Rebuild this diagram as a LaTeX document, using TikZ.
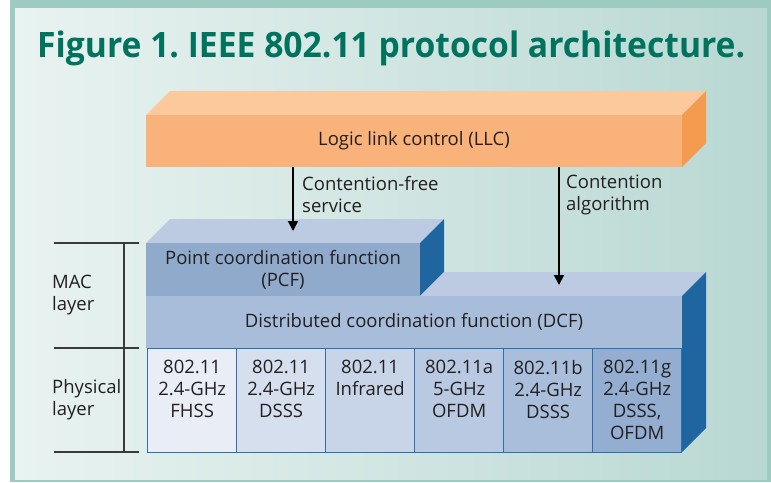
\documentclass[tikz,border=0pt]{standalone}
\usepackage{fontspec}
\setmainfont{Open Sans}
\usetikzlibrary{arrows.meta}
\frenchspacing
\definecolor{framec}{HTML}{9DCBC2}
\definecolor{bgL}{HTML}{E9F3F1}
\definecolor{bgR}{HTML}{B9D8D3}
\definecolor{titlec}{HTML}{00735F}
\definecolor{txt}{HTML}{231F20}
\definecolor{llcF}{HTML}{F9B27A}
\definecolor{llcT}{HTML}{FBC99C}
\definecolor{llcR}{HTML}{F59B4F}
\definecolor{blueT}{HTML}{BCCBE2}
\definecolor{blueR}{HTML}{1F65A0}
\definecolor{pcfF}{HTML}{90AACB}
\definecolor{dcfF}{HTML}{A8BDD9}
\definecolor{cellB}{HTML}{2E6FAD}
\definecolor{cA}{HTML}{E8EDF6}
\definecolor{cB}{HTML}{D6DFEE}
\definecolor{cC}{HTML}{C8D4E8}
\definecolor{cD}{HTML}{B8C9E1}
\definecolor{cE}{HTML}{A9BEDB}
\definecolor{cF}{HTML}{93AED1}
\definecolor{linec}{HTML}{3A3A3A}
\begin{document}
\begin{tikzpicture}[x=1pt,y=-1pt,
  lbl/.style={text=txt, font=\fontsize{18.5}{22}\selectfont, inner sep=0pt},
  face/.style={inner sep=0pt, outer sep=0pt},
  cellbox/.style={draw=cellB, line width=1.3pt, minimum width=89pt, minimum height=104pt, inner sep=0pt, anchor=north west},
  arr/.style={line width=1.8pt, -{Triangle[width=10pt,length=10pt]}},
  brk/.style={draw=linec, line width=1.5pt}]
\useasboundingbox (0,0) rectangle (771,482);
\fill[white] (0,0) rectangle (771,482);
\fill[framec] (10,0) rectangle (771,482);
\shade[left color=bgL, right color=bgR] (15,8) rectangle (767,479);
% title
\node[anchor=base west, inner sep=0pt, text=titlec, font=\bfseries\fontsize{35}{38}\selectfont] (title) at (37,57) {\resizebox{708pt}{\height}{Figure 1. IEEE 802.11 protocol architecture.}};
% LLC block
\fill[llcT] (146,115) -- (170,91) -- (706,91) -- (682,115) -- cycle;
\fill[llcR] (682,115) -- (706,91) -- (706,143) -- (682,167) -- cycle;
\node[face, fill=llcF, minimum width=536pt, minimum height=52pt, anchor=north west] (llc) at (146,115) {};
\node[lbl] (llct) at (llc.center) {Logic link control (LLC)};
% PCF block
\fill[blueT] (146,243) -- (170,219) -- (444,219) -- (420,243) -- cycle;
\fill[blueR] (420,243) -- (444,219) -- (444,272) -- (420,296) -- cycle;
\node[face, fill=pcfF, minimum width=274pt, minimum height=53pt, anchor=north west] (pcf) at (146,243) {};
\node[lbl, align=center] (pcft) at (283,270) {Point coordination function\\(PCF)};
% DCF block
\fill[blueT] (420,296) -- (444,272) -- (706,272) -- (682,296) -- cycle;
\fill[blueR] (682,296) -- (706,272) -- (706,428) -- (682,452) -- cycle;
\node[face, fill=dcfF, minimum width=536pt, minimum height=52pt, anchor=north west] (dcf) at (146,296) {};
\node[lbl] (dcft) at (414,322) {Distributed coordination function (DCF)};
% physical cells
\foreach \i/\c/\t in {0/cA/{802.11\\2.4-GHz\\FHSS}, 1/cB/{802.11\\2.4-GHz\\DSSS}, 2/cC/{802.11\\Infrared}, 3/cD/{802.11a\\5-GHz\\OFDM}, 4/cE/{802.11b\\2.4-GHz\\DSSS}, 5/cF/{802.11g\\2.4-GHz\\DSSS,\\OFDM}}{
  \node[cellbox, fill=\c] (cell\i) at ({147+89*\i},348) {};
  \node[lbl, align=center, anchor=north] (cellt\i) at ([yshift=-12pt]cell\i.north) {\t};
}
% arrows
\coordinate (tip1) at (293,231);
\coordinate (tip2) at (559,285);
\draw[arr] (llc.south -| tip1) -- (tip1);
\draw[arr] (llc.south -| tip2) -- (tip2);
\node[lbl, align=left, anchor=west] (cf) at (302,195) {Contention-free\\service};
\node[lbl, align=left, anchor=west] (ca) at (566,195) {Contention\\algorithm};
% layer bracket
\draw[brk] (54,243) -- (139,243);
\draw[brk] (54,348) -- (139,348);
\draw[brk] (54,452) -- (139,452);
\draw[brk] (124,243) -- (124,452);
\node[lbl, align=left, anchor=west] (mac) at (52,295) {MAC\\layer};
\node[lbl, align=left, anchor=west] (phy) at (52,400) {Physical\\layer};
\end{tikzpicture}
\end{document}
